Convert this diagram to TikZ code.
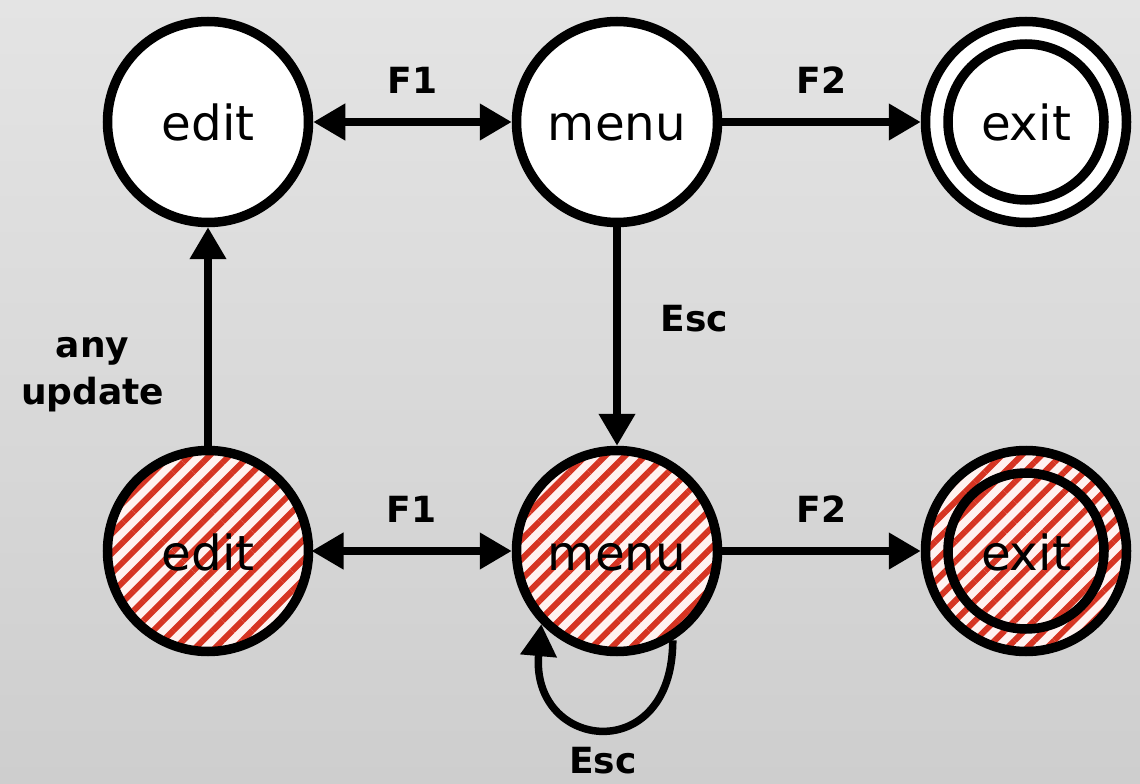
\documentclass[tikz,border=0pt]{standalone}
\usepackage{fontspec}
\setmainfont{DejaVu Sans}
\usetikzlibrary{arrows.meta, patterns.meta}
\definecolor{stripered}{RGB}{214,52,34}
\definecolor{stripebg}{RGB}{255,242,240}
\definecolor{bgtop}{RGB}{228,228,228}
\definecolor{bgbot}{RGB}{206,206,206}
\tikzset{
  state/.style={circle,draw,line width=.19cm,minimum size=4.02cm,inner sep=0pt,
    text height=.76cm,text depth=0pt,font=\fontsize{27.5}{30}\selectfont},
  plain/.style={fill=white},
  hatch/.style={preaction={fill=stripebg},
    pattern={Lines[angle=45,distance=.28cm,line width=.12cm]},pattern color=stripered},
  ring/.style={state,minimum size=3.12cm},
  trans/.style={line width=.15cm,-{Triangle[length=.64cm,width=.7cm]}},
  both/.style={trans,{Triangle[length=.64cm,width=.7cm]}-{Triangle[length=.64cm,width=.7cm]}},
  lab/.style={inner sep=0pt,font=\fontsize{20.5}{26.7}\selectfont\bfseries,align=center}
}
\begin{document}
\begin{tikzpicture}
    \shade[top color=bgtop,bottom color=bgbot] (0,0) rectangle (22.8,-15.68);
    \foreach \r/\y/\look in {A/-2.44/plain,B/-11.02/hatch}{
    \node[state,\look] (edit\r) at (4.16,\y) {edit};
    \node[state,\look] (menu\r) at (12.34,\y) {menu};
    \node[state,\look] (exit\r) at (20.52,\y) {};
    \node[ring] (ring\r) at (exit\r) {exit};
    \draw[both] (edit\r) -- node[lab,above=.5cm]{F1} (menu\r);
    \draw[trans] (menu\r) -- node[lab,above=.5cm]{F2} (exit\r);
    }
    \draw[trans] (menuA) -- node[lab,right=.8cm,pos=.42]{Esc} (menuB);
    \draw[trans] (editB) -- node[lab,left=.8cm,pos=.33]{any\\update} (editA);
    \draw[trans] (menuB.-58) .. controls +(-90:2.55) and +(-95:2.55) ..
      node[lab,below=.32cm]{Esc} (menuB.-136);
\end{tikzpicture}
\end{document}
